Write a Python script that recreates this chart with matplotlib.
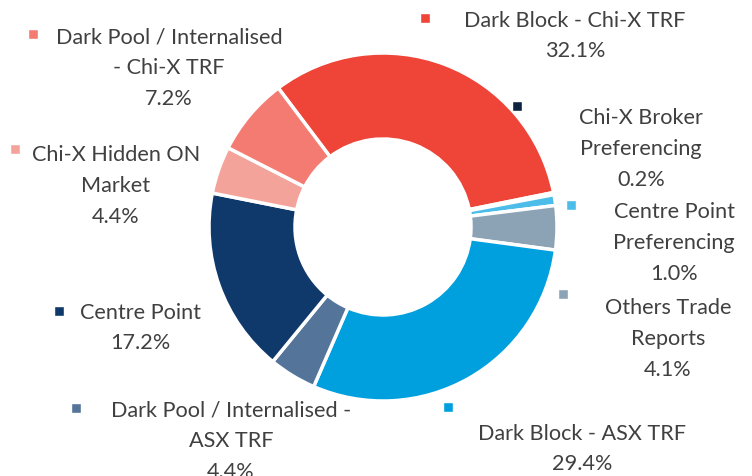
import matplotlib.pyplot as plt

# slices, clockwise starting from the top
labels = ['Dark Block - Chi-X TRF', 'Chi-X Broker\nPreferencing', 'Centre Point\nPreferencing',
          'Others Trade\nReports', 'Dark Block - ASX TRF', 'Dark Pool / Internalised -\nASX TRF',
          'Centre Point', 'Chi-X Hidden ON\nMarket', 'Dark Pool / Internalised\n- Chi-X TRF']
shares = [32.1, 0.2, 1.0, 4.1, 29.4, 4.4, 17.2, 4.4, 7.2]
colors = ['#EF4438', '#0C2340', '#4CBCE8', '#8CA3B6', '#00A0DF', '#54749A',
          '#10396B', '#F4A39B', '#F47B72']

# label layout in pixels (text centre, marker centre), y measured from the top
text_pos = [(575, 36), (641, 149), (674, 243), (668, 339), (582, 449),
            (231, 441), (140, 328), (116, 186), (169, 68)]
mark_pos = [(425, 19), (517, 107), (571, 206), (563, 295), (448, 408),
            (76, 409), (59, 312), (15, 150), (33, 35)]

W, H = 752, 477
fig = plt.figure(figsize=(W / 100, H / 100), dpi=100)
ax = fig.add_axes([0, 0, 1, 1])

ax.pie(shares, colors=colors, startangle=127, counterclock=False,
       center=(383, H - 228), radius=174,
       wedgeprops=dict(width=86, edgecolor='white', linewidth=2.5))

for lab, val, (tx, ty), (mx, my), c in zip(labels, shares, text_pos, mark_pos, colors):
    ax.text(tx, H - ty, f'{lab}\n{val:.1f}%', ha='center', va='center',
            multialignment='center', fontsize=15.6, family='Lato',
            color='#404040', linespacing=1.68)
    ax.scatter(mx, H - my, marker='s', s=55, color=c, edgecolors='white',
               linewidths=1, zorder=5)

ax.set_xlim(0, W)
ax.set_ylim(0, H)
ax.set_aspect('equal')
ax.axis('off')

fig.savefig('out.png', dpi=100)
